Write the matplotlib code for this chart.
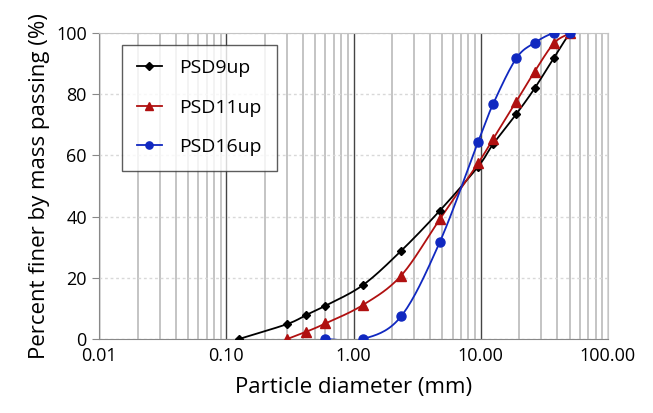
import matplotlib
matplotlib.use("Agg")
import matplotlib.pyplot as plt
from matplotlib.ticker import LogLocator, FixedLocator, NullFormatter
import numpy as np

plt.rcParams['font.family'] = ['Open Sans', 'DejaVu Sans']

# Data (sieve sizes in mm, percent passing)
sieves = [0.125, 0.3, 0.425, 0.6, 1.18, 2.36, 4.75, 9.5, 12.5, 19, 26.5, 37.5, 50]
psd9 = [0, 4.9, 7.9, 10.9, 17.6, 28.8, 41.9, 56.3, 63.7, 73.5, 81.9, 91.9, 100]
sieves11 = [0.3, 0.425, 0.6, 1.18, 2.36, 4.75, 9.5, 12.5, 19, 26.5, 37.5, 50]
psd11 = [0, 2.4, 5.1, 11.1, 20.7, 39.1, 57.4, 65.4, 77.6, 87.4, 96.6, 100]
sieves16 = [0.6, 1.18, 2.36, 4.75, 9.5, 12.5, 19, 26.5, 37.5, 50]
psd16 = [0, 0, 7.4, 31.6, 64.3, 76.8, 91.7, 96.8, 100, 100]

x_ticks = [0.01, 0.1, 1, 10, 100]
x_labels = ['0.01', '0.10', '1.00', '10.00', '100.00']


def smooth(xs, ys, n=20):
    # Catmull-Rom curve in log10(x) space, like a spreadsheet smoothed line
    lx = np.log10(xs)
    ys = np.asarray(ys, float)
    px = np.concatenate([[2 * lx[0] - lx[1]], lx, [2 * lx[-1] - lx[-2]]])
    py = np.concatenate([[2 * ys[0] - ys[1]], ys, [2 * ys[-1] - ys[-2]]])
    out_x, out_y = [], []
    t = np.linspace(0, 1, n)
    for i in range(1, len(px) - 2):
        for arr, res in ((px, out_x), (py, out_y)):
            p0, p1, p2, p3 = arr[i - 1], arr[i], arr[i + 1], arr[i + 2]
            m1 = (p2 - p0) / 2 / 3
            m2 = (p3 - p1) / 2 / 3
            b = ((1 - t) ** 3 * p1 + 3 * (1 - t) ** 2 * t * (p1 + m1)
                 + 3 * (1 - t) * t ** 2 * (p2 - m2) + t ** 3 * p2)
            res.extend(b)
    return 10 ** np.array(out_x), np.array(out_y)


fig = plt.figure(figsize=(6.53, 4.13), dpi=100)
ax = fig.add_axes([0.152, 0.179, 0.779, 0.741])

series = [
    (sieves, psd9, '#000000', 'D', 4.5, 'PSD9up'),
    (sieves11, psd11, '#b01010', '^', 6.5, 'PSD11up'),
    (sieves16, psd16, '#1028c0', 'o', 6.5, 'PSD16up'),
]
for xs, ys, c, m, ms, lab in series:
    sx, sy = smooth(xs, ys)
    ax.plot(sx, sy, color=c, lw=1.3, zorder=3)
    ax.plot(xs, ys, ls='none', marker=m, ms=ms, color=c, zorder=4)
    ax.plot([], [], color=c, lw=1.3, marker=m, ms=ms * 0.8, label=lab)

ax.set_xscale('log')
ax.set_xlim(0.01, 100)
ax.set_ylim(0, 100)
ax.xaxis.set_major_locator(FixedLocator(x_ticks))
ax.set_xticklabels(x_labels)
ax.xaxis.set_minor_locator(LogLocator(base=10, subs=np.arange(2, 10)))
ax.xaxis.set_minor_formatter(NullFormatter())
ax.set_yticks(np.arange(0, 101, 20))

ax.grid(which='major', axis='x', color='#444444', lw=1.0)
ax.grid(which='minor', axis='x', color='#c4c4c4', lw=1.4)
ax.grid(which='major', axis='y', color='#d8d8d8', lw=1.0, ls=(0, (2, 2)))
ax.set_axisbelow(True)

ax.tick_params(axis='x', which='both', length=0, labelsize=13, pad=6)
ax.tick_params(axis='y', length=5, color='#888888', labelsize=13, pad=4)
for s in ['top', 'right']:
    ax.spines[s].set_color('#c4c4c4')
ax.spines['left'].set_color('#888888')
ax.spines['bottom'].set_color('#888888')

ax.set_xlabel('Particle diameter (mm)', fontsize=16, labelpad=8)
ax.set_ylabel('Percent finer by mass passing (%)', fontsize=16, labelpad=4)

leg = ax.legend(loc='upper left', bbox_to_anchor=(0.045, 0.962), fontsize=14,
                frameon=True, fancybox=False, edgecolor='#333333',
                borderpad=0.75, labelspacing=1.1, handlelength=1.3,
                handletextpad=0.9, borderaxespad=0)
leg.get_frame().set_linewidth(1.0)

fig.savefig('out.png', dpi=100)
